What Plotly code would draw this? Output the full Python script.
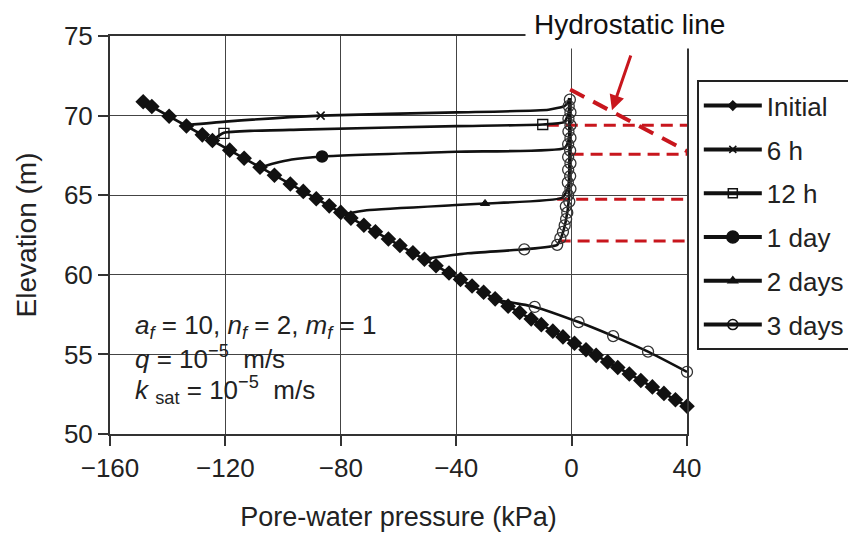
import plotly.graph_objects as go

# ---------------- data ----------------
initial_p = [-148.5, -145.5, -139.5, -133.5, -128, -124.5, -118.5, -113.5, -108, -103, -97.5, -93,
             -88.5, -84, -80, -76.5, -72, -68, -63.5, -59.5, -55, -51, -47, -42.5, -38.5, -34.5,
             -30.5, -26.5, -22, -18, -14, -10.5, -6.5, -3, 1, 5, 8.5, 12.5, 16, 20, 24, 28, 32, 36, 40]
initial_z = [70.87, 70.57, 69.96, 69.35, 68.79, 68.44, 67.83, 67.32, 66.76, 66.25, 65.70, 65.24,
             64.78, 64.33, 63.92, 63.56, 63.11, 62.70, 62.25, 61.84, 61.38, 60.98, 60.57, 60.11,
             59.71, 59.30, 58.90, 58.49, 58.03, 57.63, 57.22, 56.87, 56.46, 56.10, 55.70, 55.29,
             54.94, 54.53, 54.18, 53.77, 53.36, 52.96, 52.55, 52.15, 51.74]

h6_p = [-133.5, -120, -87, -40, -8, -2.5, -1.2, -0.8]
h6_z = [69.40, 69.62, 70.00, 70.20, 70.37, 70.60, 70.85, 71.10]
h6_mp = [-87]
h6_mz = [70.0]

h12_p = [-124.5, -120.5, -110, -94, -40, -10, -2.5, -1.0, -0.8]
h12_z = [68.45, 68.92, 69.05, 69.12, 69.34, 69.44, 69.60, 70.20, 71.10]
h12_mp = [-120.5, -10]
h12_mz = [68.88, 69.44]

d1_p = [-108.5, -103, -97, -86.5, -40, -2.5, -1.0, -0.8]
d1_z = [66.70, 67.00, 67.24, 67.43, 67.73, 67.96, 68.50, 71.10]
d1_mp = [-86.5]
d1_mz = [67.43]

d2_p = [-79, -71, -40, -30, -3.3, -1.2, -0.8]
d2_z = [63.80, 64.05, 64.38, 64.48, 64.84, 65.50, 71.10]
d2_mp = [-30]
d2_mz = [64.48]

d3_low_p = [-25.5, -12.8, 2.4, 14.4, 26.5, 40]
d3_low_z = [58.40, 57.98, 57.03, 56.15, 55.17, 53.90]
d3_up_p = [-51, -36, -16.4, -5, -3.3, -2.1, -0.9, -0.6]
d3_up_z = [61.00, 61.35, 61.60, 61.88, 62.50, 63.30, 64.80, 71.10]
d3_mp = [-12.8, 2.4, 14.4, 26.5, 40, -16.4, -5,
         -3.9, -3.0, -2.4, -1.9, -1.5, -2.0, -0.8, -1.2, -0.4, -1.3, -0.5, -1.2, -0.4,
         -1.2, -0.5, -1.2, -0.4, -1.1, -0.4, -1.1, -0.4, -1.0, -0.6]
d3_mz = [57.98, 57.03, 56.15, 55.17, 53.90, 61.60, 61.88,
         62.3, 62.7, 63.1, 63.5, 63.9, 64.3, 64.6, 65.0, 65.4, 65.8, 66.2, 66.6, 67.0,
         67.4, 67.8, 68.2, 68.6, 69.0, 69.4, 69.8, 70.2, 70.6, 71.0]

# hydrostatic reference lines (red dashed)
hydro_levels = [69.40, 67.57, 64.75, 62.12]
hydro_start_p = [-8.6, 0.0, -5.0, -4.5]
hydro_end_p = 40
hydro_diag_p = [-0.5, 42]
hydro_diag_z = [71.64, 67.57]

series_names = ["Initial", "6 h", "12 h", "1 day", "2 days", "3 days"]

BLACK = "#111111"
RED = "#c8161d"
FONT = "Liberation Sans, Arial, sans-serif"

fig = go.Figure()

def line(x, y, width=2.6):
    fig.add_trace(go.Scatter(x=x, y=y, mode="lines", showlegend=False, hoverinfo="skip",
                             line=dict(color=BLACK, width=width, shape="spline", smoothing=0.5)))

def marks(x, y, symbol, size, lw=1.5, color=BLACK):
    fig.add_trace(go.Scatter(x=x, y=y, mode="markers", showlegend=False, cliponaxis=False,
                             marker=dict(symbol=symbol, size=size, color=color,
                                         line=dict(color=color, width=lw))))

# hydrostatic dashed lines
for lvl, sp in zip(hydro_levels, hydro_start_p):
    fig.add_trace(go.Scatter(x=[sp, hydro_end_p], y=[lvl, lvl], mode="lines", showlegend=False,
                             hoverinfo="skip", line=dict(color=RED, width=3, dash="12px,7px")))
fig.add_trace(go.Scatter(x=hydro_diag_p, y=hydro_diag_z, mode="lines", showlegend=False,
                         hoverinfo="skip", line=dict(color=RED, width=4, dash="16px,10px")))

# curves
line(h6_p, h6_z)
line(h12_p, h12_z)
line(d1_p, d1_z)
line(d2_p, d2_z)
line(d3_low_p, d3_low_z)
line(d3_up_p, d3_up_z)
fig.add_trace(go.Scatter(x=initial_p, y=initial_z, mode="lines+markers", showlegend=False,
                         cliponaxis=False,
                         line=dict(color=BLACK, width=2.6),
                         marker=dict(symbol="diamond", size=12, color=BLACK)))

marks(h6_mp, h6_mz, "x-thin", 8, lw=1.5)
marks(h12_mp, h12_mz, "square-open", 10, lw=1.3)
marks(d1_mp, d1_mz, "circle", 11)
marks(d2_mp, d2_mz, "triangle-up", 8, lw=1)
marks(d3_mp, d3_mz, "circle-open", 11, lw=1.3, color="#333333")

# legend-only traces
leg_symbols = ["diamond", "x-thin", "square-open", "circle", "triangle-up", "circle-open"]
leg_sizes = [7, 7, 9, 12, 8, 10]
for i, (nm, sym, sz) in enumerate(zip(series_names, leg_symbols, leg_sizes)):
    fig.add_trace(go.Scatter(x=[None], y=[None], mode="lines+markers", name=nm,
                             legendgroup=f"g{i}",
                             line=dict(color=BLACK, width=4),
                             marker=dict(symbol=sym, size=sz, color=BLACK,
                                         line=dict(color=BLACK, width=1.5))))

axis_common = dict(showline=True, linecolor="#333333", linewidth=2, mirror=True,
                   showgrid=True, gridcolor="#444444", gridwidth=1.3, zeroline=False,
                   ticks="outside", ticklen=10, tickwidth=1.5, tickcolor="#333333",
                   tickfont=dict(family=FONT, size=26, color="#222222"))

fig.update_layout(
    width=856, height=535,
    margin=dict(l=102, r=177, t=28, b=109, autoexpand=False),
    paper_bgcolor="white", plot_bgcolor="white",
    font=dict(family=FONT, color="#222222"),
    xaxis=dict(range=[-160, 40], tickvals=[-160, -120, -80, -40, 0, 40],
               title=dict(text="Pore-water pressure (kPa)", font=dict(size=27), standoff=25),
               **axis_common),
    yaxis=dict(range=[50, 75], tickvals=[50, 55, 60, 65, 70, 75],
               title=dict(text="Elevation (m)", font=dict(size=28), standoff=19),
               **axis_common),
    legend=dict(x=1.017, y=0.889, xanchor="left", yanchor="top",
                bordercolor="#222222", borderwidth=2, bgcolor="white",
                font=dict(family=FONT, size=26, color="#222222"),
                itemwidth=58, tracegroupgap=7),
)

# parameter text
PFONT = dict(size=26, family=FONT, color="#222222")
fig.add_annotation(xref="paper", yref="paper", x=0.04, y=0.269, xanchor="left", yanchor="middle",
                   showarrow=False, font=PFONT,
                   text="<i>a<sub>f</sub></i> = 10, <i>n<sub>f</sub></i> = 2, <i>m<sub>f</sub></i> = 1")
fig.add_annotation(xref="paper", yref="paper", x=0.04, y=0.193, xanchor="left", yanchor="middle",
                   showarrow=False, font=PFONT,
                   text="<i>q</i> = 10<sup>\u22125</sup>  m/s")
fig.add_annotation(xref="paper", yref="paper", x=0.04, y=0.111, xanchor="left", yanchor="middle",
                   showarrow=False, font=PFONT,
                   text="<i>k</i> <sub>sat</sub> = 10<sup>\u22125</sup>  m/s")

# hydrostatic label and arrow
fig.add_annotation(xref="paper", yref="paper", x=0.901, y=1.03, xanchor="center", yanchor="middle",
                   showarrow=False, text="Hydrostatic line", bgcolor="white", borderpad=8,
                   font=dict(size=28, family=FONT, color="#111111"))
fig.add_annotation(x=14, y=70.34, xref="x", yref="y", text=" ", showarrow=True,
                   ax=21.7, ay=-63.3, arrowhead=2, arrowsize=1, arrowwidth=3, arrowcolor=RED,
                   standoff=0, startstandoff=0)

fig.write_html("out.html")
